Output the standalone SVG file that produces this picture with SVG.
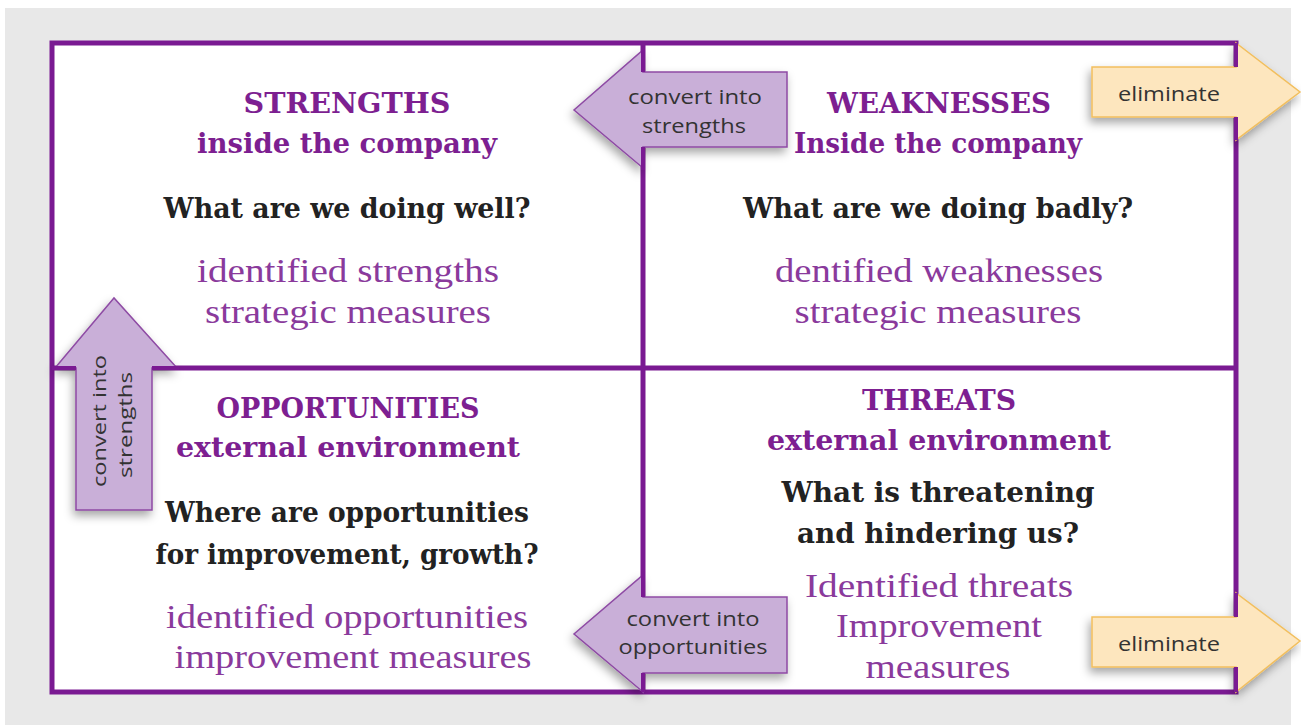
<svg xmlns="http://www.w3.org/2000/svg" width="1301" height="725" viewBox="0 0 1301 725">
<defs>
<filter id="sh" x="-30%" y="-30%" width="160%" height="170%">
<feDropShadow dx="-2" dy="5" stdDeviation="5" flood-color="#000" flood-opacity="0.35"/>
</filter>
</defs>
<style>
.frame{fill:#fff;stroke:#7a1a92;stroke-width:5}
.div{stroke:#7a1a92;stroke-width:5;fill:none}
.back{stroke:#7a1a92;stroke-width:4;fill:none}
.pa{fill:#c9afd8;stroke:#8e4ba4;stroke-width:1.5;filter:url(#sh)}
.ya{fill:#fde6be;stroke:#f2bf5e;stroke-width:1.5;filter:url(#sh)}
.head{font-family:'DejaVu Serif','Liberation Serif',serif;font-stretch:condensed;font-weight:bold;fill:#7d1f91;font-size:28px;text-anchor:middle}
.sub{font-family:'DejaVu Serif','Liberation Serif',serif;font-stretch:condensed;font-weight:bold;fill:#7d1f91;font-size:27px;text-anchor:middle}
.q{font-family:'DejaVu Serif','Liberation Serif',serif;font-stretch:condensed;font-weight:bold;fill:#222;font-size:28px;text-anchor:middle}
.body{font-family:'Liberation Serif',serif;fill:#8a3a9c;font-size:33px;text-anchor:middle}
.lbl{font-family:'Open Sans','Liberation Sans',sans-serif;fill:#333;font-size:20px;text-anchor:middle}
.rl{font-family:'Open Sans','Liberation Sans',sans-serif;fill:#333;font-size:19px;text-anchor:middle}
</style>
<rect x="5" y="8" width="1286" height="717" fill="#e8e8e8"/>
<g id="grid">
<rect class="frame" x="52" y="43" width="1184" height="649"/>
<line class="div" x1="643" y1="43" x2="643" y2="692"/>
<line class="div" x1="52" y1="368" x2="1236" y2="368"/>
</g>
<g id="strengths">
<text class="head" x="347" y="113" textLength="207" lengthAdjust="spacingAndGlyphs">STRENGTHS</text>
<text class="sub" x="347" y="153" textLength="300" lengthAdjust="spacingAndGlyphs">inside the company</text>
<text class="q" x="347" y="218" textLength="367" lengthAdjust="spacingAndGlyphs">What are we doing well?</text>
<text class="body" x="348" y="282" textLength="302" lengthAdjust="spacingAndGlyphs">identified strengths</text>
<text class="body" x="348" y="323" textLength="286" lengthAdjust="spacingAndGlyphs">strategic measures</text>
</g>
<g id="weaknesses">
<text class="head" x="939" y="113" textLength="224" lengthAdjust="spacingAndGlyphs">WEAKNESSES</text>
<text class="sub" x="938" y="153" textLength="288" lengthAdjust="spacingAndGlyphs">Inside the company</text>
<text class="q" x="938" y="218" textLength="390" lengthAdjust="spacingAndGlyphs">What are we doing badly?</text>
<text class="body" x="939" y="282" textLength="328" lengthAdjust="spacingAndGlyphs">dentified weaknesses</text>
<text class="body" x="938" y="323" textLength="287" lengthAdjust="spacingAndGlyphs">strategic measures</text>
</g>
<g id="opportunities">
<text class="head" x="348" y="418" textLength="263" lengthAdjust="spacingAndGlyphs">OPPORTUNITIES</text>
<text class="sub" x="348" y="457" textLength="344" lengthAdjust="spacingAndGlyphs">external environment</text>
<text class="q" x="347" y="522" textLength="364" lengthAdjust="spacingAndGlyphs">Where are opportunities</text>
<text class="q" x="347" y="564" textLength="383" lengthAdjust="spacingAndGlyphs">for improvement, growth?</text>
<text class="body" x="347" y="628" textLength="362" lengthAdjust="spacingAndGlyphs">identified opportunities</text>
<text class="body" x="353" y="668" textLength="357" lengthAdjust="spacingAndGlyphs">improvement measures</text>
</g>
<g id="threats">
<text class="head" x="939" y="410" textLength="154" lengthAdjust="spacingAndGlyphs">THREATS</text>
<text class="sub" x="939" y="450" textLength="344" lengthAdjust="spacingAndGlyphs">external environment</text>
<text class="q" x="938" y="502" textLength="313" lengthAdjust="spacingAndGlyphs">What is threatening</text>
<text class="q" x="938" y="543" textLength="282" lengthAdjust="spacingAndGlyphs">and hindering us?</text>
<text class="body" x="939" y="597" textLength="268" lengthAdjust="spacingAndGlyphs">Identified threats</text>
<text class="body" x="939" y="637" textLength="206" lengthAdjust="spacingAndGlyphs">Improvement</text>
<text class="body" x="938" y="678" textLength="145" lengthAdjust="spacingAndGlyphs">measures</text>
</g>
<g id="connectors">
<g id="arrow-w-to-s">
<path class="pa" d="M787,72 L643,72 L643,50 L574,110 L643,168 L643,147 L787,147 Z"/>
<path class="back" d="M643,48 L643,72 M643,147 L643,170"/>
<text class="lbl" x="695" y="104" textLength="134" lengthAdjust="spacingAndGlyphs">convert into</text>
<text class="lbl" x="694" y="133" textLength="104" lengthAdjust="spacingAndGlyphs">strengths</text>
</g>
<g id="arrow-w-eliminate">
<path class="ya" d="M1092,67 L1236,67 L1236,43 L1300,92 L1236,140 L1236,117 L1092,117 Z"/>
<path class="back" d="M1236,43 L1236,67 M1236,117 L1236,140"/>
<text class="lbl" x="1169" y="101" textLength="102" lengthAdjust="spacingAndGlyphs">eliminate</text>
</g>
<g id="arrow-o-to-s">
<path class="pa" d="M76,510 L76,368 L55,368 L114,298 L177,368 L152,368 L152,510 Z"/>
<path class="back" d="M52,368 L76,368 M152,368 L179,368"/>
<text class="rl" transform="translate(106,421) rotate(-90)" x="0" y="0" textLength="132" lengthAdjust="spacingAndGlyphs">convert into</text>
<text class="rl" transform="translate(132,425) rotate(-90)" x="0" y="0" textLength="106" lengthAdjust="spacingAndGlyphs">strengths</text>
</g>
<g id="arrow-t-to-o">
<path class="pa" d="M787,597 L643,597 L643,575 L574,634 L643,692 L643,673 L787,673 Z"/>
<path class="back" d="M643,573 L643,597 M643,673 L643,692"/>
<text class="lbl" x="693" y="626" textLength="133" lengthAdjust="spacingAndGlyphs">convert into</text>
<text class="lbl" x="693" y="654" textLength="149" lengthAdjust="spacingAndGlyphs">opportunities</text>
</g>
<g id="arrow-t-eliminate">
<path class="ya" d="M1092,617 L1236,617 L1236,593 L1300,641 L1236,692 L1236,667 L1092,667 Z"/>
<path class="back" d="M1236,593 L1236,617 M1236,667 L1236,692"/>
<text class="lbl" x="1169" y="651" textLength="102" lengthAdjust="spacingAndGlyphs">eliminate</text>
</g>
</g>
</svg>
